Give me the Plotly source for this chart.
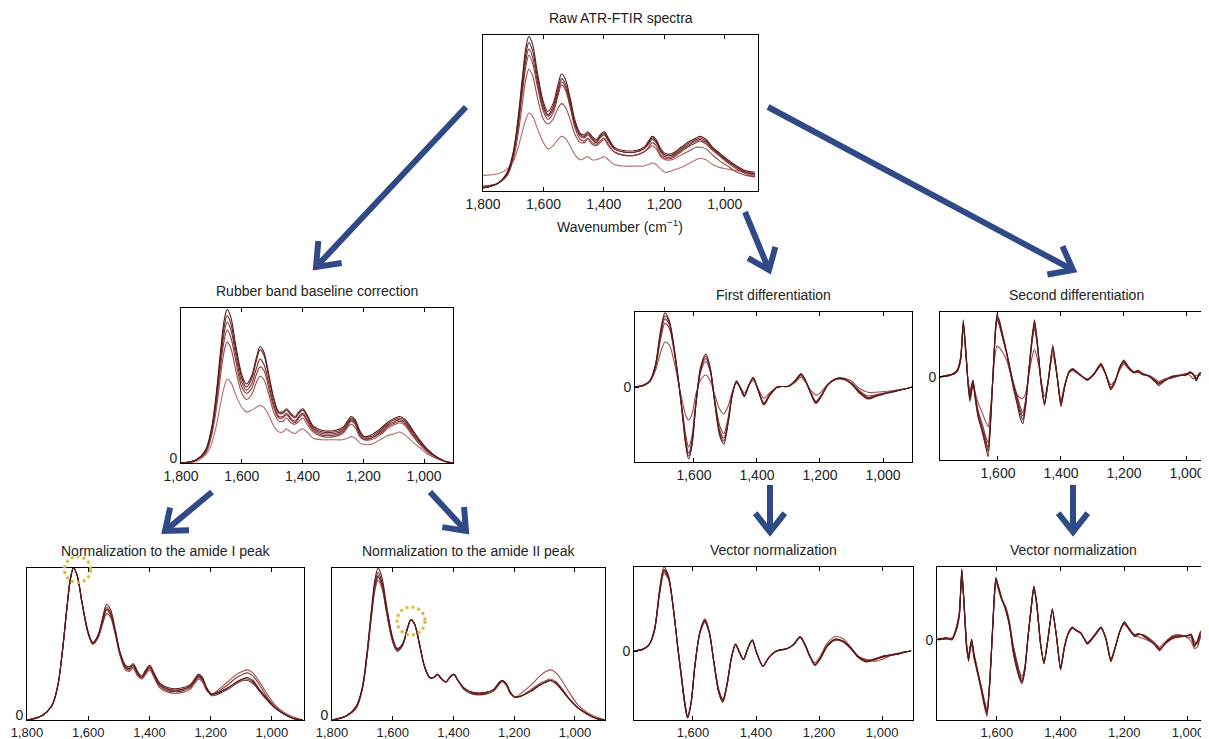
import math
import plotly.graph_objects as go

# ---------------- data ----------------
# absorbance panels share one wavenumber grid (cm-1)
WN_ABS = [1800, 1750, 1720, 1700, 1685, 1670, 1658, 1648, 1636, 1620,
          1600, 1585, 1568, 1552, 1540, 1528, 1512, 1495, 1478, 1465,
          1453, 1439, 1425, 1412, 1399, 1385, 1365, 1335, 1295, 1268,
          1252, 1240, 1227, 1212, 1197, 1175, 1145, 1115, 1095, 1080,
          1062, 1040, 1015, 990, 960, 930, 900]

raw_a = [0.02, 0.05, 0.12, 0.25, 0.45, 0.72, 0.92, 0.99, 0.94, 0.76,
         0.57, 0.51, 0.56, 0.68, 0.75, 0.72, 0.60, 0.45, 0.37, 0.36,
         0.38, 0.35, 0.33, 0.36, 0.38, 0.34, 0.28, 0.26, 0.26, 0.28,
         0.32, 0.35, 0.33, 0.27, 0.24, 0.24, 0.28, 0.32, 0.34, 0.35,
         0.33, 0.28, 0.24, 0.20, 0.16, 0.13, 0.12]
raw_b = [0.02, 0.05, 0.11, 0.24, 0.43, 0.69, 0.88, 0.95, 0.90, 0.73,
         0.55, 0.49, 0.54, 0.65, 0.72, 0.69, 0.58, 0.43, 0.36, 0.35,
         0.37, 0.34, 0.32, 0.35, 0.37, 0.33, 0.27, 0.25, 0.25, 0.27,
         0.31, 0.34, 0.32, 0.26, 0.23, 0.23, 0.27, 0.31, 0.33, 0.34,
         0.32, 0.27, 0.23, 0.19, 0.15, 0.12, 0.11]
raw_c = [0.02, 0.05, 0.11, 0.23, 0.41, 0.66, 0.84, 0.91, 0.86, 0.70,
         0.53, 0.48, 0.52, 0.63, 0.70, 0.67, 0.56, 0.42, 0.35, 0.34,
         0.36, 0.33, 0.31, 0.34, 0.36, 0.32, 0.27, 0.25, 0.25, 0.27,
         0.30, 0.33, 0.31, 0.25, 0.22, 0.22, 0.26, 0.30, 0.32, 0.33,
         0.31, 0.27, 0.23, 0.19, 0.15, 0.12, 0.10]
raw_d = [0.03, 0.05, 0.10, 0.22, 0.39, 0.63, 0.80, 0.87, 0.82, 0.67,
         0.51, 0.46, 0.50, 0.61, 0.68, 0.65, 0.54, 0.40, 0.33, 0.32,
         0.34, 0.31, 0.30, 0.32, 0.34, 0.30, 0.25, 0.23, 0.23, 0.25,
         0.28, 0.31, 0.29, 0.23, 0.21, 0.21, 0.25, 0.29, 0.31, 0.32,
         0.30, 0.26, 0.22, 0.18, 0.14, 0.11, 0.09]
raw_e = [0.03, 0.05, 0.10, 0.20, 0.35, 0.56, 0.72, 0.78, 0.74, 0.60,
         0.46, 0.43, 0.46, 0.53, 0.56, 0.54, 0.46, 0.36, 0.31, 0.31,
         0.33, 0.30, 0.29, 0.31, 0.33, 0.29, 0.25, 0.23, 0.23, 0.25,
         0.27, 0.29, 0.27, 0.22, 0.20, 0.20, 0.23, 0.26, 0.28, 0.28,
         0.27, 0.23, 0.19, 0.16, 0.12, 0.10, 0.09]
raw_f = [0.10, 0.11, 0.14, 0.19, 0.27, 0.38, 0.46, 0.50, 0.48, 0.40,
         0.31, 0.27, 0.29, 0.33, 0.35, 0.34, 0.29, 0.23, 0.20, 0.21,
         0.22, 0.20, 0.20, 0.21, 0.22, 0.20, 0.17, 0.16, 0.16, 0.16,
         0.17, 0.18, 0.17, 0.14, 0.12, 0.13, 0.15, 0.18, 0.20, 0.21,
         0.20, 0.17, 0.15, 0.14, 0.13, 0.12, 0.11]

rub_a = [0.00, 0.02, 0.08, 0.22, 0.43, 0.72, 0.92, 0.99, 0.94, 0.76,
         0.57, 0.51, 0.56, 0.68, 0.75, 0.72, 0.58, 0.42, 0.33, 0.33,
         0.35, 0.32, 0.30, 0.33, 0.35, 0.31, 0.24, 0.21, 0.21, 0.23,
         0.27, 0.30, 0.28, 0.21, 0.17, 0.18, 0.22, 0.27, 0.29, 0.30,
         0.28, 0.22, 0.15, 0.09, 0.04, 0.01, 0.00]
rub_b = [0.00, 0.02, 0.08, 0.21, 0.41, 0.69, 0.88, 0.95, 0.90, 0.73,
         0.55, 0.49, 0.54, 0.66, 0.73, 0.70, 0.56, 0.41, 0.32, 0.32,
         0.34, 0.31, 0.29, 0.32, 0.34, 0.30, 0.23, 0.20, 0.20, 0.22,
         0.26, 0.29, 0.27, 0.20, 0.17, 0.17, 0.21, 0.26, 0.28, 0.29,
         0.27, 0.21, 0.14, 0.09, 0.04, 0.01, 0.00]
rub_c = [0.00, 0.02, 0.07, 0.20, 0.39, 0.66, 0.84, 0.91, 0.86, 0.70,
         0.52, 0.47, 0.51, 0.61, 0.67, 0.64, 0.52, 0.38, 0.30, 0.30,
         0.32, 0.29, 0.27, 0.30, 0.32, 0.28, 0.22, 0.19, 0.19, 0.21,
         0.25, 0.28, 0.26, 0.19, 0.16, 0.16, 0.20, 0.25, 0.27, 0.28,
         0.26, 0.20, 0.14, 0.08, 0.04, 0.01, 0.00]
rub_d = [0.00, 0.02, 0.07, 0.19, 0.37, 0.62, 0.79, 0.86, 0.81, 0.66,
         0.49, 0.45, 0.48, 0.57, 0.62, 0.60, 0.49, 0.36, 0.29, 0.29,
         0.31, 0.28, 0.26, 0.29, 0.31, 0.27, 0.21, 0.18, 0.18, 0.20,
         0.24, 0.27, 0.25, 0.18, 0.15, 0.16, 0.19, 0.24, 0.26, 0.27,
         0.25, 0.19, 0.13, 0.08, 0.04, 0.01, 0.00]
rub_e = [0.00, 0.02, 0.06, 0.17, 0.33, 0.56, 0.72, 0.78, 0.74, 0.60,
         0.45, 0.41, 0.44, 0.52, 0.56, 0.54, 0.45, 0.33, 0.27, 0.27,
         0.29, 0.26, 0.25, 0.27, 0.29, 0.25, 0.20, 0.17, 0.17, 0.19,
         0.23, 0.25, 0.23, 0.17, 0.15, 0.15, 0.18, 0.23, 0.25, 0.26,
         0.24, 0.18, 0.12, 0.07, 0.03, 0.01, 0.00]
rub_f = [0.00, 0.01, 0.05, 0.12, 0.23, 0.38, 0.49, 0.54, 0.52, 0.44,
         0.36, 0.33, 0.34, 0.36, 0.37, 0.36, 0.31, 0.24, 0.20, 0.20,
         0.22, 0.20, 0.19, 0.21, 0.22, 0.20, 0.16, 0.15, 0.15, 0.15,
         0.16, 0.17, 0.16, 0.13, 0.12, 0.12, 0.15, 0.18, 0.19, 0.20,
         0.18, 0.14, 0.10, 0.06, 0.03, 0.01, 0.00]

am1_a = [0.00, 0.03, 0.09, 0.22, 0.44, 0.73, 0.93, 1.00, 0.95, 0.77,
         0.58, 0.51, 0.56, 0.68, 0.76, 0.73, 0.60, 0.44, 0.36, 0.35,
         0.37, 0.32, 0.29, 0.33, 0.36, 0.31, 0.24, 0.21, 0.21, 0.23,
         0.27, 0.30, 0.28, 0.21, 0.17, 0.18, 0.21, 0.25, 0.27, 0.28,
         0.26, 0.20, 0.14, 0.08, 0.04, 0.01, 0.00]
am1_b = [0.00, 0.03, 0.09, 0.22, 0.44, 0.73, 0.93, 1.00, 0.95, 0.77,
         0.57, 0.50, 0.55, 0.66, 0.73, 0.70, 0.58, 0.43, 0.35, 0.34,
         0.36, 0.31, 0.28, 0.32, 0.35, 0.30, 0.23, 0.20, 0.20, 0.22,
         0.26, 0.29, 0.27, 0.20, 0.17, 0.18, 0.21, 0.25, 0.27, 0.27,
         0.25, 0.19, 0.13, 0.08, 0.04, 0.01, 0.00]
am1_c = [0.00, 0.03, 0.09, 0.22, 0.44, 0.73, 0.93, 1.00, 0.95, 0.77,
         0.57, 0.50, 0.54, 0.64, 0.70, 0.68, 0.57, 0.42, 0.34, 0.33,
         0.35, 0.30, 0.28, 0.31, 0.34, 0.29, 0.22, 0.19, 0.19, 0.21,
         0.25, 0.28, 0.26, 0.20, 0.16, 0.17, 0.20, 0.24, 0.26, 0.26,
         0.24, 0.19, 0.13, 0.08, 0.04, 0.01, 0.00]
am1_d = [0.00, 0.03, 0.09, 0.22, 0.44, 0.73, 0.93, 1.00, 0.95, 0.77,
         0.57, 0.50, 0.55, 0.66, 0.72, 0.70, 0.57, 0.42, 0.33, 0.32,
         0.34, 0.29, 0.27, 0.30, 0.33, 0.28, 0.21, 0.18, 0.18, 0.20,
         0.24, 0.27, 0.25, 0.19, 0.17, 0.20, 0.25, 0.30, 0.32, 0.33,
         0.31, 0.25, 0.17, 0.10, 0.05, 0.02, 0.00]
am1_e = [0.00, 0.03, 0.09, 0.22, 0.44, 0.73, 0.93, 1.00, 0.95, 0.77,
         0.57, 0.51, 0.55, 0.67, 0.74, 0.71, 0.58, 0.43, 0.35, 0.34,
         0.36, 0.31, 0.28, 0.32, 0.35, 0.30, 0.23, 0.20, 0.20, 0.22,
         0.26, 0.29, 0.27, 0.20, 0.17, 0.19, 0.23, 0.28, 0.30, 0.31,
         0.29, 0.23, 0.15, 0.09, 0.04, 0.01, 0.00]

am2_a = [0.00, 0.03, 0.09, 0.22, 0.44, 0.73, 0.93, 1.00, 0.94, 0.75,
         0.54, 0.47, 0.50, 0.60, 0.66, 0.63, 0.50, 0.35, 0.28, 0.28,
         0.30, 0.27, 0.25, 0.28, 0.30, 0.26, 0.21, 0.18, 0.18, 0.20,
         0.24, 0.26, 0.24, 0.18, 0.15, 0.16, 0.19, 0.23, 0.25, 0.26,
         0.24, 0.19, 0.13, 0.08, 0.04, 0.01, 0.00]
am2_b = [0.00, 0.03, 0.09, 0.21, 0.43, 0.71, 0.90, 0.97, 0.91, 0.73,
         0.53, 0.46, 0.49, 0.60, 0.66, 0.63, 0.50, 0.35, 0.28, 0.28,
         0.30, 0.27, 0.25, 0.28, 0.30, 0.26, 0.21, 0.18, 0.18, 0.20,
         0.24, 0.26, 0.24, 0.18, 0.15, 0.16, 0.19, 0.23, 0.25, 0.26,
         0.24, 0.19, 0.13, 0.08, 0.04, 0.01, 0.00]
am2_c = [0.00, 0.03, 0.08, 0.21, 0.42, 0.69, 0.88, 0.94, 0.89, 0.71,
         0.52, 0.46, 0.49, 0.60, 0.66, 0.63, 0.50, 0.35, 0.28, 0.28,
         0.30, 0.27, 0.25, 0.28, 0.30, 0.26, 0.20, 0.17, 0.17, 0.19,
         0.23, 0.26, 0.24, 0.18, 0.15, 0.16, 0.19, 0.23, 0.25, 0.26,
         0.24, 0.19, 0.13, 0.08, 0.04, 0.01, 0.00]
am2_d = [0.00, 0.03, 0.08, 0.20, 0.41, 0.68, 0.86, 0.92, 0.87, 0.70,
         0.51, 0.45, 0.49, 0.60, 0.66, 0.63, 0.50, 0.35, 0.28, 0.28,
         0.30, 0.27, 0.25, 0.28, 0.30, 0.26, 0.20, 0.17, 0.17, 0.19,
         0.23, 0.25, 0.23, 0.17, 0.15, 0.18, 0.23, 0.29, 0.32, 0.33,
         0.31, 0.25, 0.17, 0.10, 0.05, 0.02, 0.00]
am2_e = [0.00, 0.03, 0.09, 0.21, 0.42, 0.70, 0.89, 0.95, 0.90, 0.72,
         0.53, 0.47, 0.50, 0.60, 0.66, 0.63, 0.50, 0.35, 0.28, 0.28,
         0.30, 0.27, 0.25, 0.28, 0.30, 0.26, 0.21, 0.18, 0.18, 0.20,
         0.24, 0.26, 0.24, 0.18, 0.15, 0.16, 0.20, 0.24, 0.26, 0.27,
         0.25, 0.20, 0.13, 0.08, 0.04, 0.01, 0.00]

# first-derivative panels grid
WN_D1 = [1787, 1760, 1740, 1722, 1706, 1692, 1678, 1662, 1648, 1636,
         1626, 1617, 1606, 1594, 1578, 1562, 1548, 1533, 1518, 1505,
         1492, 1478, 1465, 1452, 1440, 1426, 1412, 1398, 1378, 1360,
         1335, 1300, 1280, 1260, 1245, 1230, 1213, 1195, 1175, 1150,
         1125, 1100, 1075, 1048, 1020, 995, 970, 945, 925, 908]

d1_a = [0.00, 0.02, 0.08, 0.30, 0.75, 0.99, 0.88, 0.50, 0.05, -0.40,
        -0.78, -0.96, -0.78, -0.25, 0.28, 0.44, 0.25, -0.25, -0.65, -0.76,
        -0.50, -0.10, 0.08, -0.02, -0.13, 0.02, 0.13, -0.02, -0.24, -0.12,
        0.00, 0.01, 0.08, 0.18, 0.08, -0.08, -0.22, -0.12, 0.03, 0.11,
        0.11, 0.04, -0.08, -0.16, -0.12, -0.09, -0.07, -0.04, -0.02, 0.00]
d1_b = [0.00, 0.02, 0.08, 0.29, 0.72, 0.95, 0.86, 0.49, 0.05, -0.38,
        -0.75, -0.92, -0.75, -0.24, 0.26, 0.41, 0.24, -0.23, -0.62, -0.72,
        -0.48, -0.10, 0.08, -0.02, -0.12, 0.02, 0.12, -0.02, -0.23, -0.11,
        0.00, 0.01, 0.08, 0.17, 0.08, -0.08, -0.21, -0.11, 0.03, 0.11,
        0.11, 0.04, -0.07, -0.15, -0.12, -0.09, -0.06, -0.04, -0.02, 0.00]
d1_c = [0.00, 0.02, 0.07, 0.28, 0.68, 0.91, 0.83, 0.47, 0.04, -0.36,
        -0.71, -0.88, -0.71, -0.23, 0.24, 0.38, 0.22, -0.21, -0.58, -0.68,
        -0.46, -0.09, 0.07, -0.02, -0.12, 0.02, 0.12, -0.02, -0.22, -0.11,
        0.00, 0.01, 0.07, 0.16, 0.07, -0.07, -0.20, -0.11, 0.03, 0.10,
        0.11, 0.05, -0.06, -0.14, -0.11, -0.08, -0.06, -0.04, -0.02, 0.00]
d1_d = [0.00, 0.02, 0.07, 0.26, 0.63, 0.85, 0.78, 0.44, 0.04, -0.33,
        -0.64, -0.80, -0.65, -0.21, 0.21, 0.34, 0.20, -0.19, -0.52, -0.62,
        -0.42, -0.08, 0.07, -0.02, -0.11, 0.02, 0.11, -0.02, -0.21, -0.10,
        0.00, 0.01, 0.07, 0.15, 0.07, -0.07, -0.19, -0.10, 0.03, 0.10,
        0.10, 0.05, -0.05, -0.12, -0.10, -0.08, -0.06, -0.04, -0.02, 0.00]
d1_f = [0.00, 0.03, 0.08, 0.22, 0.46, 0.60, 0.56, 0.32, 0.03, -0.20,
        -0.38, -0.44, -0.36, -0.10, 0.10, 0.16, 0.08, -0.12, -0.30, -0.36,
        -0.26, -0.06, 0.05, -0.01, -0.08, 0.02, 0.09, -0.01, -0.15, -0.08,
        0.00, 0.01, 0.06, 0.13, 0.06, -0.04, -0.11, -0.06, 0.04, 0.11,
        0.12, 0.08, -0.02, -0.07, -0.07, -0.06, -0.05, -0.03, -0.02, 0.00]

v1_a = [0.00, 0.02, 0.07, 0.25, 0.70, 0.96, 0.88, 0.50, 0.04, -0.32,
        -0.62, -0.78, -0.62, -0.18, 0.22, 0.36, 0.22, -0.15, -0.48, -0.59,
        -0.40, -0.08, 0.08, -0.02, -0.10, 0.03, 0.13, -0.02, -0.18, -0.08,
        0.00, 0.03, 0.08, 0.17, 0.08, -0.05, -0.16, -0.08, 0.06, 0.14,
        0.12, 0.04, -0.07, -0.12, -0.09, -0.06, -0.05, -0.03, -0.01, 0.00]
v1_b = [0.00, 0.02, 0.07, 0.26, 0.73, 1.00, 0.90, 0.51, 0.03, -0.34,
        -0.64, -0.80, -0.63, -0.18, 0.23, 0.38, 0.23, -0.15, -0.50, -0.61,
        -0.41, -0.08, 0.08, -0.02, -0.10, 0.03, 0.13, -0.02, -0.18, -0.08,
        0.00, 0.03, 0.08, 0.17, 0.08, -0.06, -0.17, -0.09, 0.05, 0.13,
        0.11, 0.03, -0.08, -0.13, -0.10, -0.07, -0.04, -0.03, -0.01, 0.00]
v1_c = [0.00, 0.02, 0.07, 0.24, 0.67, 0.92, 0.86, 0.49, 0.05, -0.30,
        -0.60, -0.77, -0.61, -0.18, 0.21, 0.34, 0.21, -0.14, -0.46, -0.57,
        -0.39, -0.08, 0.08, -0.02, -0.10, 0.03, 0.13, -0.02, -0.18, -0.08,
        0.00, 0.03, 0.08, 0.17, 0.08, -0.05, -0.16, -0.08, 0.06, 0.14,
        0.12, 0.04, -0.07, -0.12, -0.09, -0.06, -0.05, -0.03, -0.01, 0.00]
v1_d = [0.00, 0.02, 0.07, 0.25, 0.69, 0.94, 0.87, 0.50, 0.04, -0.31,
        -0.61, -0.78, -0.62, -0.18, 0.22, 0.35, 0.22, -0.15, -0.47, -0.58,
        -0.40, -0.08, 0.08, -0.02, -0.10, 0.03, 0.13, -0.02, -0.18, -0.08,
        0.00, 0.03, 0.08, 0.16, 0.07, -0.06, -0.14, -0.05, 0.09, 0.17,
        0.15, 0.05, -0.07, -0.10, -0.12, -0.09, -0.05, -0.02, -0.01, 0.00]
v1_e = [0.00, 0.02, 0.07, 0.25, 0.71, 0.97, 0.89, 0.50, 0.04, -0.33,
        -0.63, -0.79, -0.62, -0.18, 0.22, 0.37, 0.22, -0.15, -0.49, -0.60,
        -0.40, -0.08, 0.08, -0.02, -0.10, 0.03, 0.13, -0.02, -0.18, -0.08,
        0.00, 0.03, 0.08, 0.17, 0.08, -0.05, -0.17, -0.08, 0.06, 0.13,
        0.12, 0.04, -0.06, -0.11, -0.09, -0.06, -0.04, -0.03, -0.01, 0.00]

# second-derivative panels grid
WN_D2 = [1784, 1760, 1740, 1728, 1718, 1710, 1702, 1695, 1689, 1684,
         1679, 1672, 1663, 1650, 1640, 1631, 1622, 1614, 1608, 1603,
         1596, 1585, 1572, 1560, 1550, 1540, 1530, 1521, 1512, 1502,
         1492, 1484, 1475, 1463, 1452, 1440, 1426, 1413, 1400, 1388,
         1375, 1363, 1350, 1337, 1316, 1295, 1273, 1258, 1242, 1228,
         1214, 1200, 1185, 1168, 1155, 1140, 1121, 1105, 1089, 1070,
         1047, 1025, 1005, 990, 980, 970, 960, 945, 930]

d2_a = [0.00, 0.02, 0.05, 0.10, 0.30, 0.88, 0.40, -0.10, -0.35, -0.20,
        -0.05, -0.30, -0.60, -0.85, -1.05, -1.23, -0.60, 0.20, 0.75, 0.97,
        0.85, 0.62, 0.35, 0.05, -0.20, -0.40, -0.62, -0.72, -0.45, 0.10,
        0.60, 0.88, 0.55, -0.10, -0.44, -0.05, 0.49, 0.05, -0.46, -0.15,
        0.08, 0.13, 0.08, 0.03, -0.05, 0.05, 0.21, 0.05, -0.20, -0.08,
        0.15, 0.26, 0.15, 0.08, 0.10, 0.05, 0.02, -0.05, -0.13, -0.06,
        0.00, 0.02, 0.03, 0.08, 0.04, -0.06, 0.05, 0.08, 0.03]
d2_b = [0.00, 0.03, 0.04, 0.12, 0.32, 0.85, 0.42, -0.08, -0.30, -0.15,
        -0.08, -0.35, -0.62, -0.82, -1.00, -1.15, -0.55, 0.22, 0.72, 0.92,
        0.88, 0.66, 0.38, 0.08, -0.15, -0.35, -0.55, -0.66, -0.42, 0.10,
        0.58, 0.84, 0.52, -0.10, -0.42, -0.05, 0.46, 0.04, -0.43, -0.14,
        0.07, 0.12, 0.08, 0.02, -0.04, 0.05, 0.20, 0.05, -0.18, -0.07,
        0.14, 0.24, 0.14, 0.07, 0.09, 0.05, 0.01, -0.06, -0.11, -0.05,
        0.01, 0.03, 0.02, 0.06, 0.03, -0.04, 0.06, 0.07, 0.03]
d2_c = [0.00, 0.01, 0.06, 0.11, 0.28, 0.82, 0.38, -0.12, -0.38, -0.25,
        -0.10, -0.32, -0.55, -0.78, -0.95, -1.10, -0.52, 0.18, 0.70, 0.90,
        0.82, 0.60, 0.36, 0.08, -0.12, -0.30, -0.50, -0.60, -0.38, 0.08,
        0.55, 0.80, 0.50, -0.08, -0.40, -0.05, 0.44, 0.04, -0.42, -0.14,
        0.07, 0.12, 0.07, 0.02, -0.05, 0.04, 0.19, 0.04, -0.17, -0.07,
        0.13, 0.23, 0.14, 0.07, 0.09, 0.04, 0.02, -0.04, -0.10, -0.05,
        0.00, 0.02, 0.04, 0.07, 0.05, -0.03, 0.04, 0.07, 0.02]
d2_d = [0.00, 0.02, 0.05, 0.09, 0.27, 0.80, 0.36, -0.06, -0.28, -0.12,
        -0.06, -0.28, -0.52, -0.72, -0.90, -1.02, -0.48, 0.20, 0.68, 0.88,
        0.80, 0.60, 0.36, 0.10, -0.10, -0.28, -0.45, -0.55, -0.35, 0.08,
        0.52, 0.76, 0.48, -0.08, -0.38, -0.04, 0.42, 0.04, -0.40, -0.13,
        0.06, 0.11, 0.07, 0.02, -0.04, 0.04, 0.18, 0.04, -0.16, -0.06,
        0.12, 0.22, 0.13, 0.07, 0.08, 0.04, 0.01, -0.04, -0.09, -0.04,
        0.01, 0.02, 0.03, 0.06, 0.04, -0.02, 0.05, 0.06, 0.02]
d2_f = [0.00, 0.02, 0.05, 0.12, 0.30, 0.80, 0.35, -0.05, -0.20, -0.15,
        -0.10, -0.25, -0.40, -0.55, -0.68, -0.77, -0.40, 0.10, 0.38, 0.48,
        0.45, 0.38, 0.25, 0.05, -0.15, -0.26, -0.32, -0.33, -0.25, 0.02,
        0.30, 0.42, 0.28, -0.05, -0.30, -0.05, 0.35, 0.03, -0.36, -0.12,
        0.06, 0.10, 0.06, 0.02, -0.03, 0.04, 0.17, 0.04, -0.12, -0.05,
        0.10, 0.20, 0.12, 0.06, 0.07, 0.03, 0.02, -0.02, -0.07, -0.03,
        -0.02, 0.02, 0.05, 0.02, -0.03, 0.03, 0.02, 0.05, 0.02]

v2_a = [0.01, 0.02, 0.00, 0.15, 0.35, 0.98, 0.40, -0.10, -0.26, -0.10,
        0.01, -0.20, -0.39, -0.65, -0.85, -1.00, -0.55, 0.10, 0.60, 0.84,
        0.72, 0.55, 0.42, 0.20, -0.10, -0.30, -0.48, -0.57, -0.40, 0.05,
        0.45, 0.73, 0.50, -0.05, -0.32, 0.00, 0.42, 0.05, -0.41, -0.10,
        0.10, 0.17, 0.13, 0.10, -0.05, 0.05, 0.17, 0.02, -0.30, -0.10,
        0.12, 0.24, 0.15, 0.06, 0.08, 0.06, 0.00, -0.06, -0.14, -0.04,
        0.04, 0.05, 0.06, 0.06, -0.08, -0.02, 0.10, 0.05, 0.06]
v2_b = [0.00, 0.03, 0.02, 0.12, 0.32, 0.92, 0.45, -0.05, -0.30, -0.15,
        -0.05, -0.25, -0.42, -0.68, -0.90, -1.05, -0.60, 0.12, 0.62, 0.86,
        0.75, 0.58, 0.40, 0.18, -0.12, -0.34, -0.52, -0.60, -0.42, 0.04,
        0.44, 0.72, 0.49, -0.05, -0.33, 0.00, 0.41, 0.05, -0.40, -0.10,
        0.09, 0.16, 0.13, 0.09, -0.04, 0.06, 0.18, 0.03, -0.28, -0.09,
        0.12, 0.23, 0.14, 0.05, 0.07, 0.07, 0.02, -0.04, -0.12, -0.05,
        0.02, 0.04, 0.05, 0.08, -0.02, -0.06, 0.06, 0.08, 0.05]
v2_c = [0.02, 0.01, 0.03, 0.16, 0.38, 0.95, 0.38, -0.12, -0.22, -0.08,
        -0.02, -0.18, -0.36, -0.62, -0.82, -0.97, -0.52, 0.08, 0.58, 0.82,
        0.70, 0.56, 0.44, 0.22, -0.06, -0.26, -0.44, -0.54, -0.38, 0.06,
        0.46, 0.74, 0.51, -0.04, -0.31, 0.01, 0.43, 0.06, -0.40, -0.11,
        0.10, 0.18, 0.12, 0.10, -0.06, 0.04, 0.16, 0.02, -0.29, -0.10,
        0.11, 0.25, 0.16, 0.07, 0.09, 0.05, -0.01, -0.07, -0.15, -0.03,
        0.05, 0.06, 0.04, 0.03, -0.10, 0.00, 0.12, 0.04, 0.07]
v2_d = [0.00, 0.02, 0.01, 0.14, 0.34, 0.96, 0.42, -0.08, -0.28, -0.12,
        0.00, -0.22, -0.40, -0.64, -0.86, -1.02, -0.56, 0.10, 0.61, 0.85,
        0.74, 0.57, 0.41, 0.19, -0.14, -0.36, -0.50, -0.58, -0.41, 0.05,
        0.45, 0.73, 0.50, -0.05, -0.32, 0.00, 0.42, 0.05, -0.41, -0.10,
        0.10, 0.17, 0.13, 0.10, -0.05, 0.05, 0.17, 0.02, -0.30, -0.10,
        0.12, 0.24, 0.15, 0.06, 0.08, 0.06, 0.00, -0.06, -0.14, -0.04,
        0.03, 0.05, 0.05, 0.07, -0.06, -0.03, 0.09, 0.06, 0.06]
v2_e = [0.01, 0.02, 0.01, 0.13, 0.33, 0.90, 0.40, -0.08, -0.24, -0.10,
        -0.02, -0.22, -0.40, -0.63, -0.84, -0.98, -0.54, 0.09, 0.58, 0.80,
        0.72, 0.57, 0.45, 0.24, -0.04, -0.24, -0.42, -0.50, -0.36, 0.06,
        0.44, 0.70, 0.48, -0.05, -0.30, 0.00, 0.40, 0.05, -0.38, -0.10,
        0.09, 0.16, 0.12, 0.09, -0.04, 0.05, 0.16, 0.02, -0.26, -0.09,
        0.11, 0.22, 0.14, 0.05, 0.04, 0.02, -0.02, -0.05, -0.10, -0.02,
        0.06, 0.07, 0.04, -0.02, -0.12, -0.10, 0.04, 0.06, 0.05]

TICK_VALS = [1800, 1600, 1400, 1200, 1000]
TICK_TEXT = ["1,800", "1,600", "1,400", "1,200", "1,000"]

# ---------------- layout helpers ----------------
# the page body adds an 8px offset; positions below are in screenshot pixels
OFF = 8
SCREEN_W, SCREEN_H = 1209, 739
W, H = SCREEN_W - OFF, SCREEN_H - OFF
FONT = "Liberation Sans, Arial, sans-serif"
TXT = "#222222"
ARROW = "#2f4a86"
SHADES = ["#b46c6c", "#9c4a4a", "#8a3a3a", "#7a2e2e", "#6a2424", "#561a1a"]


def px(x):
    return (x - OFF) / W


def py(y):
    return 1 - (y - OFF) / H


panels = [
    dict(title="Raw ATR-FTIR spectra", box=(483, 35, 758, 191), xr=[1800, 890], yr=[0, 1.0],
         wn=WN_ABS, curves=[raw_f, raw_e, raw_d, raw_c, raw_b, raw_a], zero=False, right=True,
         smooth=1.0, tfs=14, zshift=0),
    dict(title="Rubber band baseline correction", box=(181, 308, 453, 463), xr=[1800, 905], yr=[0, 1.0],
         wn=WN_ABS, curves=[rub_f, rub_e, rub_d, rub_c, rub_b, rub_a], zero=True, right=True,
         smooth=1.0, tfs=14, zshift=-5),
    dict(title="First differentiation", box=(635, 312, 912, 462), xr=[1787, 908], yr=[-1.0, 1.0],
         wn=WN_D1, curves=[d1_f, d1_d, d1_c, d1_b, d1_a], zero=True, right=True, smooth=0.8,
         tfs=14, zshift=0),
    dict(title="Second differentiation", box=(940, 312, 1209, 460), xr=[1784, 930], yr=[-1.28, 1.0],
         wn=WN_D2, curves=[d2_f, d2_d, d2_c, d2_b, d2_a], zero=True, right=False, smooth=0.5,
         tfs=14, zshift=0),
    dict(title="Normalization to the amide I peak", box=(27, 568, 304, 720), xr=[1800, 895], yr=[0, 1.0],
         wn=WN_ABS, curves=[am1_d, am1_e, am1_c, am1_b, am1_a], zero=True, right=True, smooth=1.0,
         tfs=13, zshift=-5),
    dict(title="Normalization to the amide II peak", box=(332, 568, 605, 720), xr=[1800, 901], yr=[0, 1.0],
         wn=WN_ABS, curves=[am2_d, am2_e, am2_c, am2_b, am2_a], zero=True, right=True, smooth=1.0,
         tfs=13, zshift=-5),
    dict(title="Vector normalization", box=(634, 567, 913, 720), xr=[1787, 902], yr=[-0.82, 1.0],
         wn=WN_D1, curves=[v1_d, v1_c, v1_e, v1_b, v1_a], zero=True, right=True, smooth=0.8,
         tfs=13, zshift=0),
    dict(title="Vector normalization", box=(937, 567, 1209, 720), xr=[1788, 934], yr=[-1.1, 1.0],
         wn=WN_D2, curves=[v2_e, v2_c, v2_b, v2_d, v2_a], zero=True, right=False, smooth=0.5,
         tfs=13, zshift=0),
]

fig = go.Figure()
layout = dict(width=W, height=H, margin=dict(l=0, r=0, t=0, b=0, pad=0), autosize=False,
              paper_bgcolor="white", plot_bgcolor="white", showlegend=False,
              font=dict(family=FONT, size=14, color=TXT))
annotations = []
shapes = []

for i, p in enumerate(panels):
    n = i + 1
    xa = "xaxis" if n == 1 else f"xaxis{n}"
    ya = "yaxis" if n == 1 else f"yaxis{n}"
    xref = "x" if n == 1 else f"x{n}"
    yref = "y" if n == 1 else f"y{n}"
    x0, y0, x1, y1 = p["box"]
    layout[xa] = dict(domain=[max(px(x0), 0.0), min(px(x1), 1.0)], range=p["xr"], anchor=yref,
                      automargin=False,
                      showline=True, linecolor="black", linewidth=1, mirror="ticks",
                      ticks="inside", ticklen=4, tickcolor="black",
                      tickvals=TICK_VALS, ticktext=TICK_TEXT,
                      tickfont=dict(family=FONT, size=p["tfs"], color=TXT),
                      showgrid=False, zeroline=False, fixedrange=True)
    yax = dict(domain=[max(py(y1), 0.0), min(py(y0), 1.0)], range=p["yr"], anchor=xref, automargin=False,
               showline=True, linecolor="black", linewidth=1,
               mirror=True if p["right"] else False,
               showgrid=False, zeroline=False, fixedrange=True)
    if p["zero"]:
        yax.update(ticks="inside", ticklen=4, tickcolor="black", tickvals=[0], ticktext=["0"],
                   tickfont=dict(family=FONT, size=14, color=TXT))
        if p["zshift"]:
            yax["ticklabelshift"] = p["zshift"]
    else:
        yax.update(ticks="", showticklabels=False)
    layout[ya] = yax
    k = len(p["curves"])
    for j, ys in enumerate(p["curves"]):
        col = SHADES[j + (6 - k)]
        fig.add_trace(go.Scatter(x=p["wn"], y=ys, mode="lines", xaxis=xref, yaxis=yref,
                                 line=dict(color=col, width=1.1, shape="spline", smoothing=p["smooth"]),
                                 hoverinfo="skip"))
    cx = (x0 + x1) / 2 if p["right"] else x0 + 136
    annotations.append(dict(text=p["title"], x=px(cx), y=py(y0 - 17), xref="paper", yref="paper",
                            showarrow=False, xanchor="center", yanchor="middle",
                            font=dict(family=FONT, size=14, color=TXT)))

annotations.append(dict(text="Wavenumber (cm<sup>\u22121</sup>)", x=px(620), y=py(226),
                        xref="paper", yref="paper", showarrow=False, xanchor="center", yanchor="middle",
                        font=dict(family=FONT, size=14, color=TXT)))


def arrow(tail, tip, head=26, ang=38, width=6):
    (x0, y0), (x1, y1) = tail, tip
    L = math.hypot(x1 - x0, y1 - y0)
    ux, uy = (x1 - x0) / L, (y1 - y0) / L
    sx, sy = x1 - ux * 3, y1 - uy * 3
    shapes.append(dict(type="line", xref="paper", yref="paper", x0=px(x0), y0=py(y0), x1=px(sx), y1=py(sy),
                       line=dict(color=ARROW, width=width)))
    a = math.radians(ang)
    pts = []
    for s in (1, -1):
        rx = ux * math.cos(s * a) - uy * math.sin(s * a)
        ry = ux * math.sin(s * a) + uy * math.cos(s * a)
        pts.append((x1 - rx * head, y1 - ry * head))
    path = (f"M {px(pts[0][0])},{py(pts[0][1])} L {px(x1)},{py(y1)} "
            f"L {px(pts[1][0])},{py(pts[1][1])}")
    shapes.append(dict(type="path", xref="paper", yref="paper", path=path,
                       line=dict(color=ARROW, width=width)))


arrow((466, 107), (316, 267))
arrow((768, 107), (1073, 270))
arrow((745, 212), (769, 270), head=24)
arrow((212, 492), (165, 531), head=24)
arrow((430, 492), (466, 531), head=24)
arrow((770, 485), (770, 532), head=24)
arrow((1073, 485), (1073, 532), head=24)

for cxp, cyp, r in [(77.5, 569.5, 13), (411, 621, 14)]:
    shapes.append(dict(type="circle", xref="paper", yref="paper",
                       x0=px(cxp - r), x1=px(cxp + r), y0=py(cyp + r), y1=py(cyp - r),
                       line=dict(color="#d6bd3c", width=3, dash="dot")))

layout["annotations"] = annotations
layout["shapes"] = shapes
fig.update_layout(**layout)
fig.write_html("out.html")
